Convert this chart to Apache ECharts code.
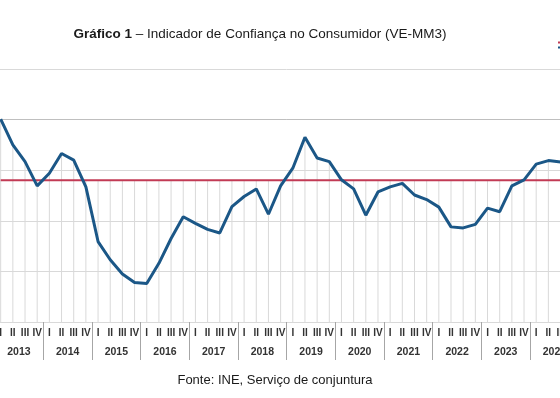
<!DOCTYPE html>
<html>
<head>
<meta charset="utf-8">
<script src="https://cdn.jsdelivr.net/npm/echarts@6/dist/echarts.min.js"></script>
<style>
  html, body { margin: 0; padding: 0; background: #fff; overflow: hidden; width: 560px; height: 398px; }
  #chart { position: absolute; left: -40px; top: 0; width: 640px; height: 398px; }
</style>
</head>
<body>
<div id="chart"></div>
<script>
// trimestres e anos do eixo
const quarters = ["I", "II", "III", "IV"];
const years = ["2013", "2014", "2015", "2016", "2017", "2018", "2019", "2020", "2021", "2022", "2023", "2024"];
const quarterLabels = years.flatMap(() => quarters);

// Indicador de confiança (VE-MM3), 2013 T1 .. 2024 T3
const icc = [
  0.1, -5.0, -8.3, -13.1,
  -10.6, -6.7, -8.0, -13.3,
  -24.1, -27.7, -30.5, -32.2,
  -32.4, -28.4, -23.5, -19.2,
  -20.5, -21.7, -22.4, -17.2,
  -15.2, -13.7, -18.7, -13.1,
  -9.6, -3.5, -7.6, -8.3,
  -11.9, -13.7, -18.9, -14.3,
  -13.3, -12.6, -14.9, -15.8,
  -17.3, -21.2, -21.4, -20.7,
  -17.5, -18.2, -13.1, -11.9,
  -8.8, -8.1, -8.4
];
const meanValue = -12.0;
const meanLine = icc.map(() => meanValue);

const Y_MIN = -40, Y_MAX = 10;
const labelFont = "'Liberation Sans Narrow', 'Liberation Sans', Arial, sans-serif";
const textFont = "'Liberation Sans', Arial, sans-serif";

const chart = echarts.init(document.getElementById("chart"));
chart.setOption({
  animation: false,
  title: [
    {
      text: "{b|Gráfico 1} – Indicador de Confiança no Consumidor (VE-MM3)",
      left: 295,
      top: 22,
      textAlign: "center",
      textStyle: {
        fontFamily: textFont,
        fontSize: 13.5,
        fontWeight: "normal",
        color: "#1a1a1a",
        rich: { b: { fontFamily: textFont, fontWeight: "bold", fontSize: 13.5, color: "#1a1a1a" } },
      },
    },
    {
      text: "Fonte: INE, Serviço de conjuntura",
      left: 310,
      top: 369,
      textAlign: "center",
      textStyle: {
        fontFamily: textFont,
        fontSize: 13,
        fontWeight: "normal",
        color: "#1a1a1a",
      },
    },
  ],
  legend: {
    orient: "vertical",
    left: 593,
    top: 35,
    itemWidth: 20,
    itemHeight: 2,
    itemGap: 0,
    icon: "rect",
    data: ["Média", "ICC"],
    textStyle: { fontSize: 5, lineHeight: 5 },
  },
  grid: {
    left: 34.6,
    right: 21.2,
    top: 69,
    bottom: 76,
    containLabel: false,
    outerBoundsMode: "none",
  },
  xAxis: [
    {
      type: "category",
      data: quarterLabels,
      axisLine: { lineStyle: { color: "#bfbfbf", width: 1 } },
      axisTick: { show: false },
      axisLabel: {
        interval: 0,
        margin: 6,
        fontFamily: labelFont,
        fontSize: 10,
        fontWeight: "bold",
        color: "#333333",
      },
    },
    {
      type: "category",
      position: "bottom",
      data: years,
      axisLine: { show: false },
      axisTick: { show: true, length: 38, interval: 0, lineStyle: { color: "#a6a6a6" } },
      axisLabel: {
        interval: 0,
        margin: 25,
        fontFamily: labelFont,
        fontSize: 10.5,
        fontWeight: "bold",
        color: "#333333",
      },
    },
  ],
  yAxis: {
    type: "value",
    min: Y_MIN,
    max: Y_MAX,
    interval: 10,
    axisLine: { show: false },
    axisTick: { show: false },
    splitLine: { lineStyle: { color: "#d9d9d9", width: 1 } },
    axisLabel: { fontSize: 10, color: "#404040" },
  },
  series: [
    {
      // linhas de queda (até ao máximo das duas séries)
      type: "custom",
      silent: true,
      z: 1,
      encode: { x: 0, y: 1 },
      data: icc.map((v, i) => [i, Math.max(v, meanValue)]),
      renderItem: function (params, api) {
        const top = api.coord([api.value(0), api.value(1)]);
        const bottom = api.coord([api.value(0), Y_MIN]);
        return {
          type: "line",
          shape: { x1: top[0], y1: top[1], x2: bottom[0], y2: bottom[1] },
          style: { stroke: "#d9d9d9", lineWidth: 1 },
        };
      },
    },
    {
      name: "Média",
      type: "line",
      data: meanLine,
      showSymbol: false,
      z: 2,
      lineStyle: { color: "#c23b55", width: 2 },
      itemStyle: { color: "#c23b55" },
    },
    {
      name: "ICC",
      type: "line",
      data: icc,
      showSymbol: false,
      z: 3,
      lineStyle: { color: "#1b5787", width: 3 },
      itemStyle: { color: "#1b5787" },
    },
  ],
});
</script>
</body>
</html>
